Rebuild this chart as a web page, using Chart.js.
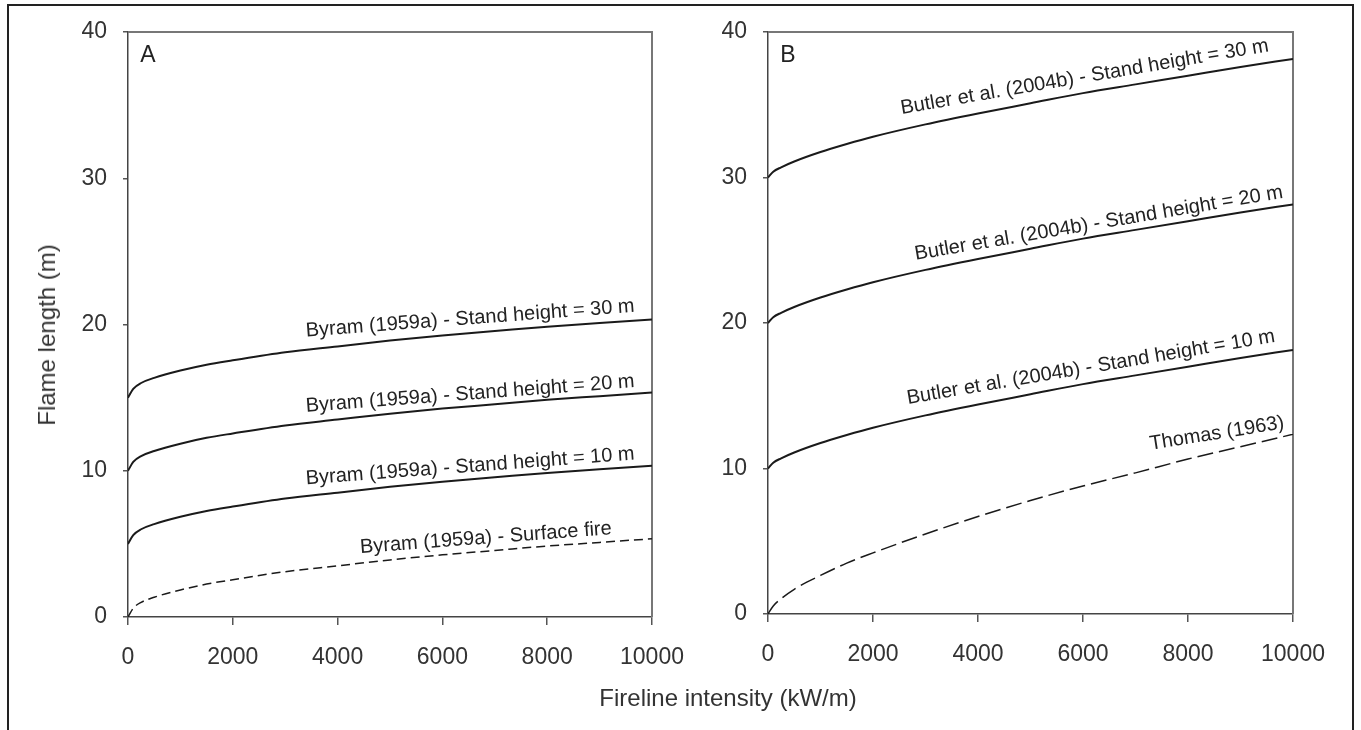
<!DOCTYPE html>
<html>
<head>
<meta charset="utf-8">
<title>Flame length vs fireline intensity</title>
<script src="https://cdn.jsdelivr.net/npm/chart.js@4.4.1/dist/chart.umd.min.js"></script>
<style>
  body { margin: 0; background: #fff; width: 1361px; height: 730px; overflow: hidden; position: relative; font-family: 'Liberation Sans', Arial, sans-serif; }
  #frame { position: absolute; left: 7px; top: 4px; width: 1347px; height: 760px; border: 2px solid #222; box-sizing: border-box; }
  canvas { position: absolute; top: 0; }
  #chartA { left: 0; }
  #chartB { left: 705px; }
  #xTitle { position: absolute; left: 728px; top: 698px; transform: translate(-50%, -50%); font-size: 24px; color: #333; white-space: nowrap; }
  #yTitle { position: absolute; left: 47px; top: 335px; transform: translate(-50%, -50%) rotate(-90deg); font-size: 24px; color: #333; white-space: nowrap; }
</style>
</head>
<body>
<div id="frame"></div>
<canvas id="chartA" width="705" height="730"></canvas>
<canvas id="chartB" width="656" height="730"></canvas>
<div id="yTitle">Flame length (m)</div>
<div id="xTitle">Fireline intensity (kW/m)</div>

<script>
// Fireline intensity (kW/m) sample points, shared by all curves
const intensity = [0, 100, 250, 500, 1000, 1500, 2000, 3000, 4000, 5000, 6000, 7000, 8000, 9000, 10000];

// Panel A - Byram (1959a)
const byramSurface = [0, 0.6, 1.0, 1.35, 1.85, 2.25, 2.55, 3.1, 3.5, 3.9, 4.25, 4.55, 4.85, 5.1, 5.35];
const byram10 = [5.0, 5.6, 6.0, 6.35, 6.85, 7.25, 7.55, 8.1, 8.5, 8.9, 9.25, 9.55, 9.85, 10.1, 10.35];
const byram20 = [10.0, 10.6, 11.0, 11.35, 11.85, 12.25, 12.55, 13.1, 13.5, 13.9, 14.25, 14.55, 14.85, 15.1, 15.35];
const byram30 = [15.0, 15.6, 16.0, 16.35, 16.85, 17.25, 17.55, 18.1, 18.5, 18.9, 19.25, 19.55, 19.85, 20.1, 20.35];

// Panel B - Butler et al. (2004b) and Thomas (1963)
const butler10 = [10.0, 10.4, 10.7, 11.1, 11.75, 12.3, 12.8, 13.65, 14.4, 15.1, 15.8, 16.4, 17.0, 17.6, 18.15];
const butler20 = [20.0, 20.4, 20.7, 21.1, 21.75, 22.3, 22.8, 23.65, 24.4, 25.1, 25.8, 26.4, 27.0, 27.6, 28.15];
const butler30 = [30.0, 30.4, 30.7, 31.1, 31.75, 32.3, 32.8, 33.65, 34.4, 35.1, 35.8, 36.4, 37.0, 37.6, 38.15];
const thomas = [0, 0.55, 1.05, 1.7, 2.65, 3.5, 4.2, 5.5, 6.7, 7.8, 8.8, 9.7, 10.65, 11.5, 12.35];

// Axis ticks
const xTicks = [0, 2000, 4000, 6000, 8000, 10000];
const yTicks = [0, 10, 20, 30, 40];

// Curve label texts
const labelsA = [
  "Byram (1959a) - Stand height = 30 m",
  "Byram (1959a) - Stand height = 20 m",
  "Byram (1959a) - Stand height = 10 m",
  "Byram (1959a) - Surface fire"
];
const labelsB = [
  "Butler et al. (2004b) - Stand height = 30 m",
  "Butler et al. (2004b) - Stand height = 20 m",
  "Butler et al. (2004b) - Stand height = 10 m",
  "Thomas (1963)"
];

const FONT = "'Liberation Sans', Arial, Helvetica, sans-serif";
Chart.defaults.font.family = FONT;
Chart.defaults.color = "#333";

function toPoints(values) {
  return values.map((v, i) => ({ x: intensity[i], y: v }));
}

function line(values, dash, width) {
  return {
    data: toPoints(values),
    borderColor: "#1a1a1a",
    borderWidth: width || 2,
    borderDash: dash || [],
    pointRadius: 0,
    fill: false,
    cubicInterpolationMode: "monotone"
  };
}

// Draws the plot box, the panel letter and the labels along the curves
const panelDecor = {
  id: "panelDecor",
  beforeDatasetsDraw(chart, args, opts) {
    const a = chart.chartArea, ctx = chart.ctx;
    ctx.save();
    ctx.strokeStyle = "#777";
    ctx.lineWidth = 2;
    ctx.beginPath();
    ctx.moveTo(a.left, a.top);
    ctx.lineTo(a.right, a.top);
    ctx.lineTo(a.right, a.bottom);
    ctx.stroke();
    ctx.restore();
  },
  afterDatasetsDraw(chart, args, opts) {
    const a = chart.chartArea, ctx = chart.ctx;
    const xs = chart.scales.x, ys = chart.scales.y;
    ctx.save();
    ctx.fillStyle = "#222";
    ctx.font = "23px " + FONT;
    ctx.textAlign = "center";
    ctx.textBaseline = "middle";
    ctx.fillText(opts.letter, a.left + 20, a.top + 24);

    ctx.font = "20px " + FONT;
    opts.items.forEach(function(it) {
      ctx.save();
      ctx.translate(xs.getPixelForValue(it.x), ys.getPixelForValue(it.y));
      ctx.rotate(-it.angle * Math.PI / 180);
      ctx.fillText(it.text, 0, 0);
      ctx.restore();
    });
    ctx.restore();
  }
};

function makeOptions(yAxisWidth, padding, decor) {
  return {
    responsive: false,
    animation: false,
    layout: { padding: padding },
    plugins: {
      legend: { display: false },
      tooltip: { enabled: false },
      panelDecor: decor
    },
    scales: {
      x: {
        type: "linear",
        min: 0,
        max: 10000,
        afterBuildTicks: s => { s.ticks = xTicks.map(v => ({ value: v })); },
        afterFit: s => { s.height = 60; },
        ticks: { font: { size: 23 }, color: "#333", padding: 19, maxRotation: 0, callback: v => String(v) },
        grid: { drawOnChartArea: false, drawTicks: true, tickLength: 8, color: "#555", lineWidth: 1.5 },
        border: { color: "#444", width: 1.5 }
      },
      y: {
        type: "linear",
        min: 0,
        max: 40,
        afterBuildTicks: s => { s.ticks = yTicks.map(v => ({ value: v })); },
        afterFit: s => { s.width = yAxisWidth; },
        ticks: { font: { size: 23 }, color: "#333", padding: 16, callback: v => String(v) },
        grid: { drawOnChartArea: false, drawTicks: true, tickLength: 5, color: "#555", lineWidth: 1.5 },
        border: { color: "#444", width: 1.5 }
      }
    }
  };
}

// Panel A
new Chart(document.getElementById("chartA"), {
  type: "line",
  data: {
    datasets: [
      line(byram30),
      line(byram20),
      line(byram10),
      line(byramSurface, [9, 5], 1.5)
    ]
  },
  options: makeOptions(128, { top: 32, right: 53, bottom: 53, left: 0 }, {
    letter: "A",
    items: [
      { text: labelsA[0], x: 6530, y: 20.4, angle: 4.3 },
      { text: labelsA[1], x: 6530, y: 15.25, angle: 4.3 },
      { text: labelsA[2], x: 6530, y: 10.3, angle: 4.3 },
      { text: labelsA[3], x: 6830, y: 5.4, angle: 4.3 }
    ]
  }),
  plugins: [panelDecor]
});

// Panel B
new Chart(document.getElementById("chartB"), {
  type: "line",
  data: {
    datasets: [
      line(butler30),
      line(butler20),
      line(butler10),
      line(thomas, [16, 6], 1.5)
    ]
  },
  options: makeOptions(63, { top: 32, right: 68, bottom: 56, left: 0 }, {
    letter: "B",
    items: [
      { text: labelsB[0], x: 6030, y: 36.9, angle: 9.7 },
      { text: labelsB[1], x: 6300, y: 26.85, angle: 9.6 },
      { text: labelsB[2], x: 6150, y: 16.95, angle: 9.6 },
      { text: labelsB[3], x: 8550, y: 12.4, angle: 9.1 }
    ]
  }),
  plugins: [panelDecor]
});
</script>
</body>
</html>
